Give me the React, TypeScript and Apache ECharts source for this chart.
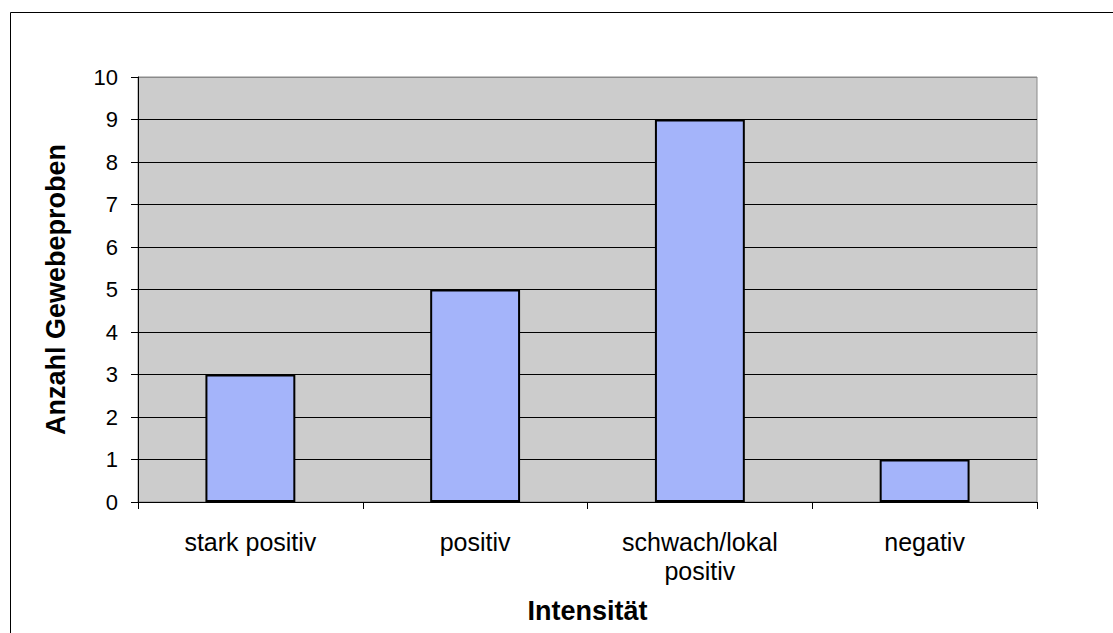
import React, { useEffect, useRef } from "react";
import * as echarts from "echarts";

const categories = ["stark positiv", "positiv", "schwach/lokal\npositiv", "negativ"];
const values = [3, 5, 9, 1];
const yMin = 0;
const yMax = 10;
const yInterval = 1;
const xAxisTitle = "Intensität";
const yAxisTitle = "Anzahl Gewebeproben";

const FONT = "'Liberation Sans', Arial, sans-serif";

export default function App() {
  const ref = useRef<HTMLDivElement>(null);
  useEffect(() => {
    document.body.style.margin = "0";
    const chart = echarts.init(ref.current!, null, { renderer: "svg" });
    const splitColors: string[] = [];
    for (let v = yMin; v <= yMax; v += yInterval) splitColors.push(v === yMax ? "#8a8a8a" : "#000000");
    chart.setOption({
      animation: false,
      backgroundColor: "#ffffff",
      textStyle: { fontFamily: FONT },
      graphic: [
        {
          type: "rect",
          shape: { x: 10.5, y: 12.5, width: 1120, height: 640 },
          style: { fill: "none", stroke: "#000000", lineWidth: 1 },
          silent: true,
          z: -1,
        },
      ],
      grid: {
        left: 138,
        top: 77,
        width: 899,
        height: 425,
        show: true,
        backgroundColor: "#cccccc",
        borderColor: "#8a8a8a",
        borderWidth: 1,
      },
      xAxis: {
        type: "category",
        data: categories,
        name: xAxisTitle,
        nameLocation: "middle",
        nameGap: 95,
        nameTextStyle: { fontFamily: FONT, fontSize: 27, fontWeight: "bold", color: "#000" },
        axisLine: { show: true, lineStyle: { color: "#000", width: 1 } },
        axisTick: { show: true, length: 7, alignWithLabel: false, lineStyle: { color: "#000" } },
        axisLabel: {
          fontFamily: FONT,
          fontSize: 25,
          color: "#000",
          margin: 25,
          lineHeight: 29,
          interval: 0,
        },
        splitLine: { show: false },
      },
      yAxis: {
        type: "value",
        min: yMin,
        max: yMax,
        interval: yInterval,
        name: yAxisTitle,
        nameLocation: "middle",
        nameGap: 69,
        nameTextStyle: { fontFamily: FONT, fontSize: 27, fontWeight: "bold", color: "#000" },
        axisLine: { show: true, lineStyle: { color: "#000", width: 1 } },
        axisTick: { show: true, length: 7, lineStyle: { color: "#000" } },
        axisLabel: { fontFamily: FONT, fontSize: 22, color: "#000", margin: 20 },
        splitLine: { show: true, lineStyle: { color: splitColors, width: 1 } },
      },
      series: [
        {
          type: "bar",
          data: values,
          barWidth: "40%",
          itemStyle: { color: "#a4b4fa", borderColor: "#000000", borderWidth: 2 },
        },
      ],
    });
    return () => chart.dispose();
  }, []);
  return <div ref={ref} style={{ width: 1113, height: 633 }} />;
}
